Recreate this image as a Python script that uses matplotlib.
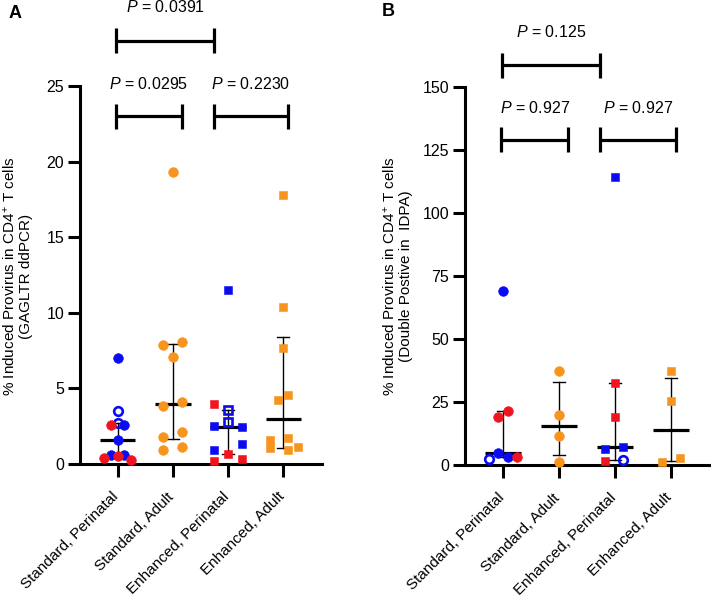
"""
Induced provirus in CD4+ T cells, two panels (GAGLTR ddPCR / IDPA)
median + IQR per group, individual points coloured by donor type
"""

import numpy as np
import matplotlib
matplotlib.use("Agg")
import matplotlib.pyplot as plt
from matplotlib.transforms import ScaledTranslation

plt.rcParams['font.family'] = ['Liberation Sans', 'DejaVu Sans']
plt.rcParams['mathtext.fontset'] = 'custom'
plt.rcParams['mathtext.rm'] = 'Liberation Sans'
plt.rcParams['mathtext.it'] = 'Liberation Sans:italic'
plt.rcParams['mathtext.bf'] = 'Liberation Sans:bold'

groups = ["Standard, Perinatal", "Standard, Adult", "Enhanced, Perinatal", "Enhanced, Adult"]

# kinds: b = blue filled, r = red filled, o = blue open, O = blue open circle, y = orange
# ---- panel A (GAGLTR ddPCR) ----
a_std_peri = [2.72, 3.5, 7.0, 2.6, 2.6, 1.6, 0.62, 0.62, 0.4, 0.55, 0.27]
a_std_peri_kind = ['o', 'o', 'b', 'r', 'b', 'b', 'b', 'b', 'r', 'r', 'r']
a_std_adult = [19.3, 7.9, 8.1, 7.1, 3.85, 4.1, 1.8, 2.1, 0.95, 1.1]
a_std_adult_kind = ['y'] * 10
a_enh_peri = [3.56, 2.8, 11.5, 3.97, 2.5, 2.45, 0.93, 1.3, 0.2, 0.65, 0.35]
a_enh_peri_kind = ['o', 'o', 'b', 'r', 'b', 'b', 'b', 'b', 'r', 'r', 'r']
a_enh_adult = [17.8, 10.4, 7.7, 4.2, 4.55, 1.6, 1.05, 1.75, 0.95, 1.1]
a_enh_adult_kind = ['y'] * 10
a_pvals = ["0.0295", "0.2230", "0.0391"]

# ---- panel B (IDPA) ----
b_std_peri = [2.4, 69.0, 19.2, 21.4, 4.7, 3.1, 3.1]
b_std_peri_kind = ['O', 'b', 'r', 'r', 'b', 'b', 'r']
b_std_adult = [37.4, 19.8, 11.5, 1.3]
b_std_adult_kind = ['y'] * 4
b_enh_peri = [2.0, 114.4, 32.4, 18.9, 6.2, 7.3, 1.7]
b_enh_peri_kind = ['O', 'b', 'r', 'r', 'b', 'b', 'r']
b_enh_adult = [37.4, 25.4, 1.3, 2.6]
b_enh_adult_kind = ['y'] * 4
b_pvals = ["0.927", "0.927", "0.125"]

# horizontal scatter of the points inside a column (layout only)
a_dx = [
    [0, 0, 0, -0.125, 0.125, 0, -0.125, 0.125, -0.25, 0, 0.25],
    [0, -0.17, 0.17, 0, -0.17, 0.17, -0.17, 0.17, -0.17, 0.17],
    [0, 0, 0, -0.25, -0.25, 0.25, -0.25, 0.25, -0.25, 0, 0.25],
    [0, 0, 0, -0.09, 0.09, -0.25, -0.25, 0.09, 0.09, 0.27],
]
b_dx = [
    [-0.25, 0, -0.09, 0.09, -0.09, 0.09, 0.25],
    [0, 0, 0, 0],
    [0.15, 0, 0, 0, -0.17, 0.15, -0.17],
    [0, 0, -0.16, 0.16],
]

BLUE = '#0b0bf2'
RED = '#f0141e'
ORANGE = '#f7941d'
shapes = ['o', 'o', 's', 's']


def draw_points(ax, i, vals, kinds, offs, shape):
    for v, k, o in zip(vals, kinds, offs):
        m = 'o' if k == 'O' else shape
        ms = 7.0 if m == 'o' else 6.4
        if k in ('o', 'O'):
            ax.plot(i + o, v, marker=m, ms=ms - 0.8, mfc='none', mec=BLUE, mew=1.9,
                    linestyle='none', zorder=3, clip_on=False)
        else:
            c = {'b': BLUE, 'r': RED, 'y': ORANGE}[k]
            ax.plot(i + o, v, marker=m, ms=ms, mfc=c, mec=c, mew=0.4,
                    linestyle='none', zorder=4, clip_on=False)


def draw_panel(ax, data, kinds, dxs, ymax, ystep, pvals, br_y, txt_y, spans):
    for i, vals in enumerate(data):
        arr = np.array(vals)
        med = np.median(arr)
        q1, q3 = np.percentile(arr, [25, 75], method='weibull')
        ax.plot([i, i], [q1, q3], color='black', lw=1.0, zorder=2)
        for q in (q1, q3):
            ax.plot([i - 0.11, i + 0.11], [q, q], color='black', lw=1.0, zorder=2)
        ax.plot([i - 0.32, i + 0.32], [med, med], color='black', lw=2.3,
                solid_capstyle='butt', zorder=2)
        draw_points(ax, i, vals, kinds[i], dxs[i], shapes[i])

    ax.set_xlim(-0.68, 3.7)
    ax.set_ylim(0, ymax)
    ax.set_yticks(np.arange(0, ymax + 1, ystep))
    ax.set_xticks(range(len(groups)))
    ax.tick_params(axis='both', length=9, width=2.2, labelsize=11.5, color='black')
    ax.tick_params(axis='y', pad=2.5)
    ax.tick_params(axis='x', pad=8)
    ax.set_xticklabels(groups, rotation=45, ha='right', va='top', rotation_mode='anchor',
                       fontsize=11)
    # nudge the rotated labels so their ends sit under the ticks
    shift = ScaledTranslation(-6 / 100, -2 / 100, fig.dpi_scale_trans)
    for lab in ax.get_xticklabels():
        lab.set_transform(lab.get_transform() + shift)
    for s in ('top', 'right'):
        ax.spines[s].set_visible(False)
    for s in ('left', 'bottom'):
        ax.spines[s].set_linewidth(2.2)

    # significance brackets
    half = ymax * 12.5 / 378
    for (x0, x1), y, ty, p in zip(spans, br_y, txt_y, pvals):
        ax.plot([x0, x1], [y, y], color='black', lw=2.3, clip_on=False, solid_capstyle='butt')
        for xx in (x0, x1):
            ax.plot([xx, xx], [y - half, y + half], color='black', lw=2.3, clip_on=False,
                    solid_capstyle='butt')
        ax.text((x0 + x1) / 2, ty, "$P$ = " + p, ha='center', va='center', fontsize=11.5)


fig = plt.figure(figsize=(7.11, 5.99), dpi=100)
ax_a = fig.add_axes([80 / 711, 135 / 599, 242 / 711, 378 / 599])
ax_b = fig.add_axes([465 / 711, 134 / 599, 245 / 711, 378 / 599])

spans = [(-0.03, 1.16), (1.74, 3.09), (-0.02, 1.74)]

draw_panel(ax_a,
           [a_std_peri, a_std_adult, a_enh_peri, a_enh_adult],
           [a_std_peri_kind, a_std_adult_kind, a_enh_peri_kind, a_enh_adult_kind],
           a_dx, 25, 5, a_pvals, [23.0, 23.0, 28.0], [25.1, 25.1, 30.2], spans)
draw_panel(ax_b,
           [b_std_peri, b_std_adult, b_enh_peri, b_enh_adult],
           [b_std_peri_kind, b_std_adult_kind, b_enh_peri_kind, b_enh_adult_kind],
           b_dx, 150, 25, b_pvals, [129.0, 129.0, 158.7], [141.7, 141.7, 171.8], spans)

fig.text(17.5 / 711, 1 - 276 / 599,
         "% Induced Provirus in CD4$^{+}$ T cells\n(GAGLTR ddPCR)",
         rotation=90, ha='center', va='center', fontsize=11, linespacing=1.15)
fig.text(397.5 / 711, 1 - 276 / 599,
         "% Induced Provirus in CD4$^{+}$ T cells\n(Double Postive in  IDPA)",
         rotation=90, ha='center', va='center', fontsize=11, linespacing=1.15)

fig.text(15 / 711, 1 - 13 / 599, "A", fontsize=13, fontweight='bold', ha='center', va='center')
fig.text(388 / 711, 1 - 12 / 599, "B", fontsize=13, fontweight='bold', ha='center', va='center')

fig.savefig("out.png", dpi=100)
